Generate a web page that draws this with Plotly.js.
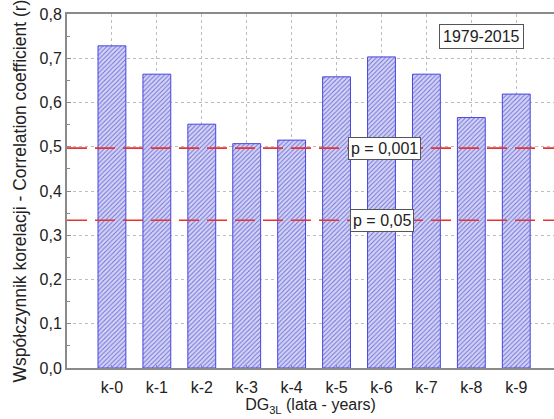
<!DOCTYPE html>
<html><head><meta charset="utf-8">
<script src="https://cdn.plot.ly/plotly-3.0.1.min.js"></script>
<style>body{margin:0;background:#fff}</style>
</head><body>
<div id="chart" style="width:554px;height:419px"></div>
<script>
const categories = ["k-0","k-1","k-2","k-3","k-4","k-5","k-6","k-7","k-8","k-9"];
const correlation = [0.728,0.664,0.551,0.507,0.515,0.658,0.703,0.664,0.566,0.619];
const thresholdValues = [0.497,0.334];
const thresholdLabels = ["p = 0,001","p = 0,05"];
const thresholdLabelX = [0.651,0.647];
const periodLabel = "1979-2015";
const yTicks = [0,0.1,0.2,0.3,0.4,0.5,0.6,0.7,0.8];

const font = "Liberation Sans, Arial, sans-serif";

const traces = [{
  type: "bar",
  x: categories.map((c,i)=>i),
  y: correlation,
  width: 0.62,
  marker: {
    color: "#d2d2f6",
    line: {color: "#4646e0", width: 1},
    pattern: {shape: "/", fgcolor: "#7070d8", bgcolor: "#d4d4f6", size: 3.2, solidity: 0.3}
  },
  hoverinfo: "skip"
}];

const shapes = thresholdValues.map(v => ({
  type: "line", xref: "paper", yref: "y", x0: 0, x1: 1, y0: v, y1: v,
  line: {color: "#e8322e", width: 1.6, dash: "20px,8px"}, layer: "above"
}));

const annotations = thresholdValues.map((v,i)=>({
  xref: "paper", yref: "y", x: thresholdLabelX[i], y: v, text: thresholdLabels[i],
  xanchor: "center", yanchor: "middle",
  showarrow: false, font: {family: font, size: 16, color: "#222"},
  bgcolor: "#fff", bordercolor: "#555", borderwidth: 1, borderpad: 2
}));
annotations.push({
  xref: "paper", yref: "paper", x: 0.852, y: 0.936, text: periodLabel,
  xanchor: "center", yanchor: "middle",
  showarrow: false, font: {family: font, size: 16, color: "#222"},
  bgcolor: "#fff", bordercolor: "#555", borderwidth: 1, borderpad: 3
});

const layout = {
  width: 554, height: 419,
  margin: {l: 67, r: 0, t: 14, b: 51},
  paper_bgcolor: "#fff", plot_bgcolor: "#fff",
  separators: ", ",
  showlegend: false,
  font: {family: font, size: 16, color: "#222"},
  xaxis: {
    range: [-1, 9.84],
    tickmode: "array", tickvals: categories.map((c,i)=>i), ticktext: categories,
    showgrid: true, gridcolor: "#bdbdbd", griddash: "dot", gridwidth: 1,
    showline: true, linecolor: "#8a8a8a", linewidth: 2, mirror: true,
    ticks: "inside", ticklen: 3, tickcolor: "#8a8a8a",
    ticklabelstandoff: 4,
    zeroline: false,
    tickfont: {family: font, size: 16, color: "#222"},
    title: {text: "DG<sub>3L</sub> (lata - years)", font: {family: font, size: 16, color: "#222"}, standoff: 4}
  },
  yaxis: {
    range: [0, 0.8],
    tickmode: "array", tickvals: yTicks, tickformat: ".1f",
    showgrid: true, gridcolor: "#bdbdbd", griddash: "dot", gridwidth: 1,
    showline: true, linecolor: "#8a8a8a", linewidth: 2,
    ticks: "inside", ticklen: 4, tickcolor: "#8a8a8a",
    minor: {dtick: 0.05, ticks: "inside", ticklen: 3, tickcolor: "#8a8a8a", showgrid: false},
    zeroline: false,
    tickfont: {family: font, size: 16, color: "#222"},
    title: {text: "Współczynnik korelacji - Correlation coefficient (r)", font: {family: font, size: 17.5, color: "#222"}, standoff: 8}
  },
  shapes: shapes,
  annotations: annotations
};

Plotly.newPlot("chart", traces, layout, {staticPlot: true, displayModeBar: false});
</script>
</body></html>
